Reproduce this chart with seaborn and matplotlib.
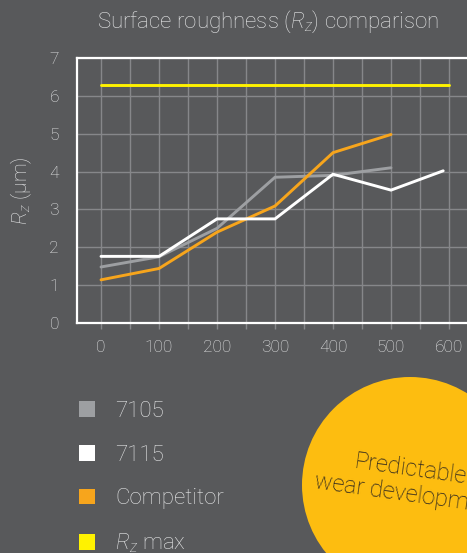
"""Surface roughness (Rz) comparison of 7105, 7115 and a competitor product."""
import matplotlib
matplotlib.use("Agg")
import matplotlib.pyplot as plt
from matplotlib.patches import Circle, Patch
from matplotlib.ticker import MultipleLocator
import pandas as pd
import seaborn as sns

# data
distance_7105 = [0, 100, 200, 300, 400, 500]
rz_7105 = [1.48, 1.75, 2.50, 3.85, 3.90, 4.10]
distance_7115 = [0, 100, 200, 300, 400, 500, 590]
rz_7115 = [1.76, 1.76, 2.75, 2.75, 3.93, 3.51, 4.02]
distance_comp = [0, 100, 200, 300, 400, 500]
rz_comp = [1.14, 1.44, 2.40, 3.09, 4.50, 4.98]
distance_max = [0, 600]
rz_max = [6.3, 6.3]
x_ticks = [0, 100, 200, 300, 400, 500, 600]
series_names = ["7105", "7115", "Competitor", "$R_z$ max"]

BG = "#58595b"
GRID = "#86878a"
TEXT = "#e6e7e8"
colors = {"7105": "#9d9fa2", "7115": "#ffffff",
          "Competitor": "#f7a51c", "$R_z$ max": "#fff200"}

sns.set_style("dark")
plt.rcParams["font.family"] = ["Roboto", "DejaVu Sans"]
plt.rcParams["font.weight"] = "light"
plt.rcParams["axes.labelweight"] = "light"
plt.rcParams["mathtext.fontset"] = "custom"
plt.rcParams["mathtext.rm"] = "Roboto:light"
plt.rcParams["mathtext.it"] = "Roboto:light:italic"

df = pd.concat([
    pd.DataFrame({"distance": distance_max, "rz": rz_max, "series": "$R_z$ max"}),
    pd.DataFrame({"distance": distance_7105, "rz": rz_7105, "series": "7105"}),
    pd.DataFrame({"distance": distance_comp, "rz": rz_comp, "series": "Competitor"}),
    pd.DataFrame({"distance": distance_7115, "rz": rz_7115, "series": "7115"}),
], ignore_index=True)

W, H = 467, 553
fig = plt.figure(figsize=(W / 100, H / 100), dpi=100, facecolor=BG)

# overlay for the badge, in pixel coordinates
over = fig.add_axes([0, 0, 1, 1], zorder=0)
over.set_xlim(0, W)
over.set_ylim(H, 0)
over.axis("off")
over.add_patch(Circle((410, 485), 108, color="#fdbd10", lw=0))
over.text(409, 482, "Predictable\nwear development", rotation=-8,
          ha="center", va="center", fontsize=17, color="#231f20",
          linespacing=1.15, rotation_mode="anchor")

# main chart: 0 at x=101px, 100 units = 58px
left_px, top_px, bottom_px = 77, 58, 323
x_lo, x_hi = -41.4, 640
ax = fig.add_axes([left_px / W, 1 - bottom_px / H,
                   (x_hi - x_lo) * 0.58 / W, (bottom_px - top_px) / H], zorder=1)
ax.set_facecolor(BG)

for name in ["$R_z$ max", "7105", "Competitor", "7115"]:
    sns.lineplot(data=df[df["series"] == name], x="distance", y="rz",
                 color=colors[name], lw=2.1, ax=ax, legend=False,
                 solid_joinstyle="miter")

ax.set_xlim(x_lo, x_hi)
ax.set_ylim(0, 7)
ax.set_xticks(x_ticks)
ax.xaxis.set_minor_locator(MultipleLocator(50))
ax.yaxis.set_major_locator(MultipleLocator(1))
ax.grid(True, which="both", axis="x", color=GRID, lw=1.0)
ax.grid(True, which="major", axis="y", color=GRID, lw=1.0)
ax.set_axisbelow(True)
for side, sp in ax.spines.items():
    sp.set_visible(side in ("left", "top", "bottom"))
    sp.set_color("white")
    sp.set_linewidth(1.6)
ax.tick_params(axis="x", which="both", direction="out", length=4, width=1,
               color=GRID, labelcolor=TEXT, labelsize=12.5, pad=8, bottom=True)
ax.tick_params(axis="y", which="both", length=0, labelcolor=TEXT,
               labelsize=12.5, pad=13, left=False)
ax.set_xlabel("")
ax.set_ylabel("$R_z$ (\u00b5m)", color=TEXT, fontsize=15, labelpad=11,
              fontweight="light")

fig.text(268 / W, 1 - 22 / H, r"Surface roughness ($R_z$) comparison",
         ha="center", va="center", color=TEXT, fontsize=16)

handles = [Patch(facecolor=colors[n], edgecolor="none") for n in series_names]
fig.legend(handles, series_names, loc="upper left",
           bbox_to_anchor=(70 / W, 1 - 392 / H), frameon=False, fontsize=16,
           labelcolor=TEXT, handlelength=0.72, handleheight=0.72,
           handletextpad=0.9, labelspacing=1.02, borderaxespad=0)

fig.savefig("out.png", dpi=100, facecolor=BG)
